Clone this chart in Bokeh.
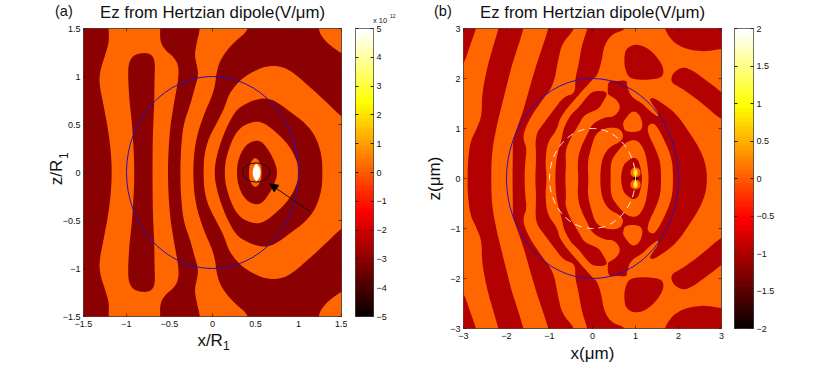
from bokeh.embed import file_html
from bokeh.resources import INLINE
from bokeh.plotting import figure
from bokeh.layouts import row
from bokeh.models import LinearAxis, FixedTicker, Arrow, NormalHead, CustomLabelingPolicy, Div
import numpy as np

FONT = "Liberation Sans"
ORANGE = "#ff6600"
DARK_A = "#8b0000"
DARK_B = "#b30000"
BLUE = "#2a10b0"

# ---- panel (a): contour boundaries, upper half (z >= 0), mirrored in z
a_far_x = [-1.8, -1.8, -1.19, -1.209, -1.202, -1.248, -1.306, -1.318, -1.267, -1.209, -1.178, -1.171]
a_far_y = [0, 1.7, 1.7, 1.5, 1.361, 1.222, 1.066, 0.927, 0.701, 0.424, 0.181, 0]
a_strip_x = [-0.907, -0.919, -0.938, -0.969, -0.984, -0.969, -0.919, -0.802, -0.705, -0.667, -0.674, -0.678, -0.694, -0.698]
a_strip_y = [0, 0.285, 0.528, 0.771, 1.049, 1.153, 1.222, 1.25, 1.229, 1.153, 0.979, 0.701, 0.424, 0]
a_band_x = [-0.523, -0.5, -0.453, -0.395, -0.395, -0.453, -0.55, -0.609, -0.609, -0.609, -0.143, -0.143, -0.182, -0.209, -0.182, -0.163, -0.202, -0.26, -0.337, -0.364, -0.376]
a_band_y = [0, 0.424, 0.701, 0.979, 1.118, 1.205, 1.274, 1.361, 1.5, 1.7, 1.7, 1.5, 1.361, 1.222, 1.118, 1.014, 0.892, 0.701, 0.507, 0.285, 0]
a_big_x = [-0.229, -0.202, -0.105, -0.008, 0.031, 0.047, 0.097, 0.233, 0.446, 0.35, 1.2, 1.233, 1.26, 1.337, 1.5, 1.7, 1.7, 1.5, 1.279, 1.085, 0.93, 0.795, 0.62, 0.426, 0.31, 0.194, 0.136, 0.058, -0.047, -0.097, -0.105]
a_big_y = [0, 0.319, 0.597, 0.788, 0.91, 1.049, 1.188, 1.344, 1.5, 1.7, 1.7, 1.5, 1.431, 1.344, 1.24, 1.15, 0.45, 0.58, 0.771, 0.927, 1.049, 1.108, 1.111, 1.031, 0.951, 0.823, 0.667, 0.528, 0.354, 0.181, 0]
a_ring_x = [0.016, 0.058, 0.155, 0.271, 0.388, 0.543, 0.659, 0.775, 0.93, 1.085, 1.202, 1.271, 1.279]
a_ring_y = [0, 0.215, 0.458, 0.649, 0.719, 0.771, 0.771, 0.719, 0.615, 0.51, 0.372, 0.181, 0]
a_ring_in_x = [0.14, 0.155, 0.233, 0.329, 0.465, 0.581, 0.736, 0.891, 0.988, 1.004]
a_ring_in_y = [0, 0.146, 0.354, 0.476, 0.528, 0.528, 0.424, 0.285, 0.111, 0]
a_core_x = [0.279, 0.302, 0.368, 0.465, 0.562, 0.64, 0.717, 0.76]
a_core_y = [0, 0.146, 0.267, 0.33, 0.33, 0.25, 0.128, 0]
a_tip_x = [0.422, 0.434, 0.496, 0.562, 0.574]
a_tip_y = [0, 0.094, 0.167, 0.094, 0]
a_white_x = [0.465, 0.475, 0.51, 0.55, 0.562]
a_white_y = [0, 0.05, 0.1, 0.05, 0]

# ---- panel (b): contour boundaries, upper half (z >= 0), mirrored in z
b_corner_x = [-3.3, -3, -2.845, -2.705, -2.62, -3.3]
b_corner_y = [2.0, 2.267, 2.667, 3, 3.3, 3.3]
b_band1_x = [-2.907, -2.899, -2.845, -2.69, -2.574, -2.574, -2.457, -2.302, -2.186, -2.1, -1.53, -1.605, -1.721, -1.876, -1.992, -2.109, -2.225, -2.341, -2.357]
b_band1_y = [0, 0.333, 0.733, 1.0, 1.267, 1.667, 2.2, 2.667, 3.0, 3.3, 3.3, 3, 2.667, 2.267, 1.867, 1.467, 1.067, 0.533, 0]
b_band2_x = [-1.86, -1.853, -1.853, -1.76, -1.62, -1.488, -1.333, -1.178, -1.023, -0.96, -0.35, -0.403, -0.713, -0.806, -0.907, -1.14, -1.411, -1.566, -1.62, -1.527, -1.566, -1.581]
b_band2_y = [0, 0.467, 0.767, 1.0, 1.333, 1.733, 2.2, 2.6, 3, 3.3, 3.3, 3, 2.7, 2.333, 1.867, 1.6, 1.267, 1.0, 0.8, 0.6, 0.333, 0]
b_band3_x = [-1.333, -1.31, -1.333, -1.14, -0.907, -0.674, -0.403, -0.403, -0.326, -0.248, -0.116, -0.05, 0.85, 0.775, 0.465, 0.271, 0.209, 0.116, 0.023, -0.364, -0.752, -0.829, -1.047, -1.101, -1.062]
b_band3_y = [0, 0.4, 0.867, 1.1, 1.367, 1.633, 1.7, 2.0, 2.267, 2.667, 3, 3.3, 3.3, 2.97, 2.9, 2.667, 2.333, 2.067, 2.0, 1.633, 1.233, 0.967, 0.733, 0.333, 0]
b_band4_x = [-0.868, -0.845, -0.713, -0.674, -0.519, -0.326, -0.132, 0.023, 0.3, 0.341, 0.264, 0.147, -0.047, -0.202, -0.326, -0.519, -0.636, -0.612, -0.636]
b_band4_y = [0, 0.4, 0.8, 1.0, 1.267, 1.413, 1.633, 1.753, 1.747, 1.68, 1.56, 1.393, 1.327, 1.26, 1.067, 0.8, 0.533, 0.333, 0]
b_net_x = [-0.326, -0.349, -0.287, -0.093, 0, 0.31, 0.496, 0.659, 0.581, 0.388, 0.349, 0.364, 0.581, 0.798, 0.798, 0.891, 1.163, 1.271, 1.434, 1.543, 1.512, 1.395, 1.318, 1.434, 1.698, 1.938, 2.202, 2.589, 2.682]
b_net_y = [0, 0.333, 0.6, 0.933, 1.1, 1.233, 1.227, 1.4, 1.567, 1.667, 1.7, 1.967, 1.947, 1.967, 1.867, 1.633, 1.5, 1.4, 1.28, 1.227, 1.347, 1.48, 1.6, 1.613, 1.46, 1.3, 0.993, 0.46, 0]
b_blob_x = [0.775, 1.008, 1.318, 1.589, 1.667, 1.589, 1.163, 0.853, 0.752, 0.736]
b_blob_y = [2.6, 2.7, 2.6, 2.333, 2.133, 2.0, 1.967, 2.0, 2.2, 2.4]
b_side_x = [1.822, 1.899, 2.093, 2.326, 2.636, 3, 3.3, 3.3, 3, 2.558, 2.248, 2.016, 1.86]
b_side_y = [2, 2.133, 2.233, 2.167, 1.967, 1.733, 1.5, 1.1, 1.167, 1.5, 1.7, 1.833, 1.9]
b_top_x = [1.667, 1.86, 2.171, 2.636, 3, 3.3, 3.3, 1.6]
b_top_y = [3, 2.733, 2.587, 2.533, 2.6, 2.6, 3.3, 3.3]
b_lobe_x = [-0.093, -0.116, -0.016, 0.078, 0.31, 0.62, 0.729, 0.659, 0.388, 0.217, 0.171]
b_lobe_y = [0, 0.333, 0.667, 0.9, 1.02, 1.013, 0.867, 0.733, 0.633, 0.4, 0]
b_island_x = [0.72, 0.93, 1.1, 1.175, 1.1, 0.76, 0.71]
b_island_y = [1.15, 1.37, 1.28, 1.067, 0.93, 0.93, 1.067]
b_ring_x = [0.419, 0.426, 0.535, 0.736, 0.969, 1.124, 1.233, 1.279, 1.31]
b_ring_y = [0, 0.333, 0.493, 0.7, 0.787, 0.7, 0.493, 0.267, 0]
b_center_x = [0.651, 0.713, 0.837, 0.961, 1.07, 1.132, 1.155]
b_center_y = [0, 0.267, 0.367, 0.427, 0.367, 0.167, 0]
b_strip_x = [1.597, 1.581, 1.465, 1.31, 1.271, 1.357, 1.465, 1.659, 1.853, 1.876]
b_strip_y = [0, 0.327, 0.593, 0.86, 1.027, 1.1, 1.093, 0.793, 0.393, 0]

# ---- dipole spots of panel (b)
spot_x = [1.0, 1.0]
spot_z = [0.12, -0.12]

# ---- ticks
a_ticks = [-1.5, -1, -0.5, 0, 0.5, 1, 1.5]
a_tick_labels = ["\u22121.5", "\u22121", "\u22120.5", "0", "0.5", "1", "1.5"]
b_ticks = [-3, -2, -1, 0, 1, 2, 3]
b_tick_labels = ["\u22123", "\u22122", "\u22121", "0", "1", "2", "3"]
cba_ticks = [-5, -4, -3, -2, -1, 0, 1, 2, 3, 4, 5]
cba_labels = ["\u22125", "\u22124", "\u22123", "\u22122", "\u22121", "0", "1", "2", "3", "4", "5"]
cbb_ticks = [-2, -1.5, -1, -0.5, 0, 0.5, 1, 1.5, 2]
cbb_labels = ["\u22122", "\u22121.5", "\u22121", "\u22120.5", "0", "0.5", "1", "1.5", "2"]


def no_labels():
    return CustomLabelingPolicy(code="for (const i of Array.from(indices)) indices.unset(i); return indices;")


def hot64():
    out = []
    for i in range(1, 65):
        r = min(i / 24, 1)
        g = min(max(i - 24, 0) / 24, 1)
        b = max(i - 48, 0) / 16
        out.append("#%02x%02x%02x" % (round(r * 255), round(g * 255), round(b * 255)))
    return out


def chaikin(x, y, n=2):
    x, y = np.array(x, float), np.array(y, float)
    for _ in range(n):
        xn, yn = np.roll(x, -1), np.roll(y, -1)
        x = np.column_stack([0.75 * x + 0.25 * xn, 0.25 * x + 0.75 * xn]).ravel()
        y = np.column_stack([0.75 * y + 0.25 * yn, 0.25 * y + 0.75 * yn]).ravel()
    return x.tolist(), y.tolist()


def mirrored(p, xs, ys, color):
    """Region crossing z=0: upper boundary joined with its reflection."""
    x = list(xs) + list(xs[-2:0:-1])
    y = list(ys) + [-v for v in ys[-2:0:-1]]
    sx, sy = chaikin(x, y)
    p.patch(sx, sy, fill_color=color, line_color=None)


def twin(p, xs, ys, color):
    """Region above z=0, repeated below it."""
    sx, sy = chaikin(xs, ys)
    p.patch(sx, sy, fill_color=color, line_color=None)
    p.patch(sx, [-v for v in sy], fill_color=color, line_color=None)


def style(p, ticks, labels, xstand, ystand):
    for ax in p.xaxis + p.yaxis:
        ax.ticker = FixedTicker(ticks=ticks)
        ax.major_label_overrides = dict(zip(ticks, labels))
        ax.major_tick_in = 3
        ax.major_tick_out = 0
        ax.minor_tick_line_color = None
        ax.axis_line_color = None
        ax.major_tick_line_color = "#222222"
        ax.major_tick_line_width = 0.7
        ax.major_label_text_font = FONT
        ax.major_label_text_font_size = "9px"
        ax.major_label_text_color = "#111111"
        ax.axis_label_text_font = FONT
        ax.axis_label_text_font_size = "17px"
        ax.axis_label_text_font_style = "normal"
        ax.axis_label_text_color = "#111111"
    for ax in p.xaxis:
        ax.major_label_standoff = 4
        ax.axis_label_standoff = xstand
    for ax in p.yaxis:
        ax.major_label_standoff = 3
        ax.axis_label_standoff = ystand
    p.outline_line_color = "#333333"
    p.outline_line_width = 0.8
    p.grid.visible = False
    for loc in ("above", "right"):
        ax = LinearAxis(ticker=FixedTicker(ticks=ticks), major_tick_in=3, major_tick_out=0,
                        minor_tick_line_color=None, axis_line_color=None,
                        major_tick_line_color="#222222", major_tick_line_width=0.7,
                        major_label_policy=no_labels(), major_label_text_font_size="0px",
                        major_label_standoff=0)
        p.add_layout(ax, loc)


def panel(rng, ticks, labels, xlabel, ylabel, fw, fh, left, width, height, xstand, ystand):
    p = figure(width=width, height=height, output_backend="svg", toolbar_location=None,
               x_range=rng, y_range=rng, tools="",
               frame_width=fw, frame_height=fh,
               min_border_left=left, min_border_top=28, min_border_right=width - left - fw,
               min_border_bottom=height - 28 - fh, background_fill_color=ORANGE)
    p.xaxis.axis_label = xlabel
    p.yaxis.axis_label = ylabel
    style(p, ticks, labels, xstand, ystand)
    return p


def colorbar(vmin, vmax, ticks, labels, left, right, fw, fh, height):
    p = figure(width=left + fw + right, height=height, output_backend="svg", toolbar_location=None,
               x_range=(0, 1), y_range=(vmin, vmax), tools="", x_axis_location=None,
               y_axis_location="left", frame_width=fw, frame_height=fh,
               min_border_left=left, min_border_right=right, min_border_top=28,
               min_border_bottom=height - 28 - fh)
    grad = np.linspace(vmin, vmax, 64).reshape(64, 1)
    p.image(image=[grad], x=0, y=vmin, dw=1, dh=vmax - vmin, palette=hot64(), level="image")
    for ax in p.yaxis:
        ax.ticker = FixedTicker(ticks=ticks)
        ax.major_label_policy = no_labels()
        ax.major_label_text_font_size = "0px"
        ax.major_label_standoff = 0
        ax.major_tick_in = 3
        ax.major_tick_out = 0
        ax.minor_tick_line_color = None
        ax.axis_line_color = None
        ax.major_tick_line_color = "#222222"
    rax = LinearAxis(ticker=FixedTicker(ticks=ticks), major_label_overrides=dict(zip(ticks, labels)),
                     major_tick_in=3, major_tick_out=0, minor_tick_line_color=None, axis_line_color=None,
                     major_tick_line_color="#222222", major_label_text_font=FONT,
                     major_label_text_font_size="9px", major_label_text_color="#111111",
                     major_label_standoff=3)
    p.add_layout(rax, "right")
    p.outline_line_color = "#444444"
    p.outline_line_width = 1
    p.grid.visible = False
    return p


def note(x, y, text, size, rotate=False):
    """A piece of free text on the page, positioned at its top-left corner."""
    st = {"position": "absolute", "left": f"{x}px", "top": f"{y}px", "font-family": FONT,
          "font-size": size, "line-height": "1", "color": "#111111", "white-space": "nowrap"}
    if rotate:
        st["transform"] = "rotate(-90deg)"
    return Div(text=text, width=1, height=1, margin=0, styles=st)


TITLE = "Ez from Hertzian dipole(V/\u03bcm)"
H = 360

# panel (a)
pa = panel((-1.5, 1.5), a_ticks, a_tick_labels, "x/R ", "z/R", 258, 288, 83, 347, H, 1, -6)
mirrored(pa, a_far_x, a_far_y, DARK_A)
mirrored(pa, a_strip_x, a_strip_y, DARK_A)
mirrored(pa, a_band_x, a_band_y, DARK_A)
mirrored(pa, a_big_x, a_big_y, DARK_A)
mirrored(pa, a_ring_x, a_ring_y, DARK_A)
mirrored(pa, a_ring_in_x, a_ring_in_y, ORANGE)
mirrored(pa, a_core_x, a_core_y, DARK_A)
mirrored(pa, a_tip_x, a_tip_y, ORANGE)
mirrored(pa, a_white_x, a_white_y, "#ffffff")
pa.ellipse(x=[0], y=[0], width=[2], height=[2], fill_color=None, line_color=BLUE, line_width=1)
pa.ellipse(x=[0.51], y=[0], width=[0.32], height=[0.2], fill_color=None, line_color="#111111", line_width=1)
pa.add_layout(Arrow(end=NormalHead(size=8, fill_color="#000000", line_color="#000000"),
                    x_start=1.14, y_start=-0.41, x_end=0.667, y_end=-0.12,
                    line_color="#111111", line_width=1))
# colour bar (a)
cba = colorbar(-5, 5, cba_ticks, cba_labels, 8, 30, 18, 288, H)

# panel (b)
pb = panel((-3, 3), b_ticks, b_tick_labels, "x(\u03bcm)", "z(\u03bcm)", 258, 300, 60, 322, H, 2, 3)
for xs, ys in [(b_band1_x, b_band1_y), (b_band2_x, b_band2_y), (b_band3_x, b_band3_y),
               (b_band4_x, b_band4_y), (b_net_x, b_net_y)]:
    mirrored(pb, xs, ys, DARK_B)
for xs, ys in [(b_corner_x, b_corner_y), (b_blob_x, b_blob_y), (b_side_x, b_side_y), (b_top_x, b_top_y)]:
    twin(pb, xs, ys, DARK_B)
mirrored(pb, b_lobe_x, b_lobe_y, ORANGE)
twin(pb, b_island_x, b_island_y, ORANGE)
mirrored(pb, b_ring_x, b_ring_y, ORANGE)
mirrored(pb, b_center_x, b_center_y, DARK_B)
mirrored(pb, b_strip_x, b_strip_y, ORANGE)
pb.ellipse(x=spot_x, y=spot_z, width=0.24, height=0.2, fill_color=ORANGE, line_color=None)
pb.ellipse(x=spot_x, y=spot_z, width=0.11, height=0.14, fill_color="#ffc000", line_color=None)
pb.ellipse(x=spot_x, y=spot_z, width=0.06, height=0.1, fill_color="#ffff20", line_color=None)
pb.ellipse(x=[1.0], y=[0], width=[0.09], height=[0.07], fill_color="#000000", line_color=None)
pb.ellipse(x=[0], y=[0], width=[4], height=[4], fill_color=None, line_color=BLUE, line_width=1)
pb.ellipse(x=[0], y=[0], width=[2], height=[2], fill_color=None, line_color="#ffe8d8", line_width=1,
           line_dash="7 5")

# colour bar (b)
cbb = colorbar(-2, 2, cbb_ticks, cbb_labels, 9, 46, 19, 300, H)

notes = [note(100, 5, TITLE, "16.8px"), note(480, 5, TITLE, "16.8px"),
         note(55, 4, "(a)", "14.5px"), note(434, 4, "(b)", "14.5px"),
         note(223, 340, "1", "12px"), note(58, 158, "1", "12px", rotate=True),
         note(373, 17, "x 10", "7.5px"), note(390, 14, "12", "5px")]

page = row(pa, cba, pb, cbb, *notes, spacing=0)
open("out.html", "w").write(file_html(page, INLINE))
